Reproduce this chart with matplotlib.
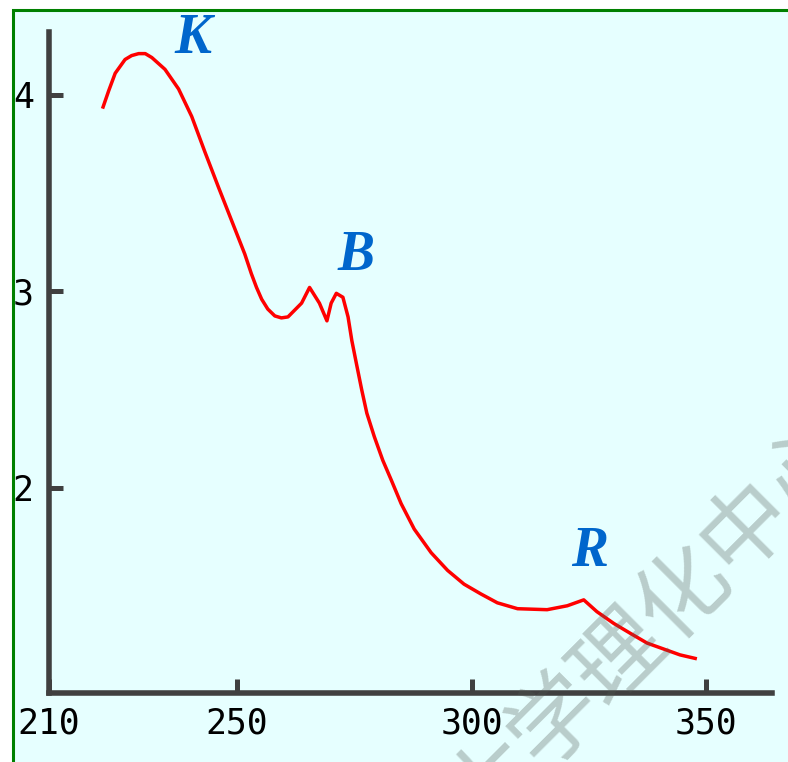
import matplotlib
matplotlib.use("Agg")
import matplotlib.pyplot as plt
from matplotlib.patches import Rectangle

# Absorption spectrum: wavelength (nm) vs log(epsilon)
wavelength = [221.4, 222.7, 224.1, 226.2, 227.6, 229.1, 230.5, 231.9, 234.7, 237.6,
              240.4, 243.2, 246.1, 248.9, 251.7, 253.1, 254.2, 255.3, 256.6, 258.1,
              259.5, 260.9, 263.8, 265.5, 267.6, 269.2, 270.1, 271.2, 272.6, 273.7,
              274.5, 275.5, 276.6, 277.7, 279.3, 281.1, 282.9, 285.0, 287.8, 291.4,
              294.9, 298.4, 302.0, 305.5, 309.8, 316.1, 320.4, 323.9, 326.7, 330.3,
              333.8, 337.4, 340.9, 344.4, 348.0]
log_eps = [3.93, 4.02, 4.11, 4.18, 4.20, 4.21, 4.21, 4.19, 4.13, 4.03,
           3.89, 3.71, 3.53, 3.36, 3.19, 3.09, 3.02, 2.96, 2.91, 2.875,
           2.865, 2.87, 2.94, 3.02, 2.94, 2.85, 2.94, 2.99, 2.97, 2.87,
           2.75, 2.63, 2.50, 2.38, 2.26, 2.14, 2.04, 1.92, 1.79, 1.67,
           1.58, 1.51, 1.46, 1.415, 1.385, 1.38, 1.40, 1.43, 1.37, 1.31,
           1.26, 1.21, 1.18, 1.15, 1.13]

x_ticks = [210, 250, 300, 350]
x_tick_labels = ["210", "250", "300", "350"]
y_ticks = [2, 3, 4]
y_tick_labels = ["2", "3", "4"]

band_names = ["K", "B", "R"]
band_x = [240.7, 275.4, 325.2]
band_y = [4.285, 3.18, 1.674]

W, H = 788, 762
fig = plt.figure(figsize=(W / 100, H / 100), dpi=100, facecolor="white")

# framed light-cyan panel
panel = Rectangle((12.5 / W, -0.2), 1.5, 1.2 - 9.5 / H,
                  transform=fig.transFigure, facecolor="#e6ffff",
                  edgecolor="#008000", linewidth=2.2, zorder=-10)
fig.patches.append(panel)

ax = fig.add_axes([49 / W, 1 - 693 / H, (772 - 49) / W, (693 - 32) / H])
ax.set_facecolor("none")
ax.set_xlim(210, 364)
ax.set_ylim(0.956, 4.32)

ax.plot(wavelength, log_eps, color="#ff0000", linewidth=2.5,
        solid_joinstyle="round", solid_capstyle="butt", zorder=3)

for s in ["top", "right"]:
    ax.spines[s].set_visible(False)
for s in ["left", "bottom"]:
    ax.spines[s].set_color("#404040")
    ax.spines[s].set_linewidth(4)
    ax.spines[s].set_capstyle("projecting")

tick_font = {"family": ["DejaVu Sans Mono"], "size": 25}
ax.set_xticks(x_ticks)
ax.set_xticklabels(x_tick_labels, fontdict=tick_font)
ax.set_yticks(y_ticks)
ax.set_yticklabels(y_tick_labels, fontdict=tick_font)
ax.tick_params(axis="both", direction="in", length=10, width=3.6,
               color="#404040", labelcolor="black")
ax.tick_params(axis="x", pad=10)
ax.tick_params(axis="y", pad=11)

for name, bx, by in zip(band_names, band_x, band_y):
    ax.text(bx, by, name, color="#0066cc", fontsize=40, fontweight="bold",
            fontstyle="italic", family=["Liberation Serif", "DejaVu Serif"],
            ha="center", va="center", clip_on=False, zorder=4)

fig.text(653 / W, 1 - 626 / H, "大学理化中心", rotation=45,
         rotation_mode="anchor", ha="center", va="center",
         fontsize=65, fontweight="medium",
         family=["Noto Sans CJK SC", "DejaVu Sans"],
         color=(80 / 255, 88 / 255, 82 / 255), alpha=0.3, zorder=10)

fig.savefig("out.png", dpi=100, facecolor="white")
